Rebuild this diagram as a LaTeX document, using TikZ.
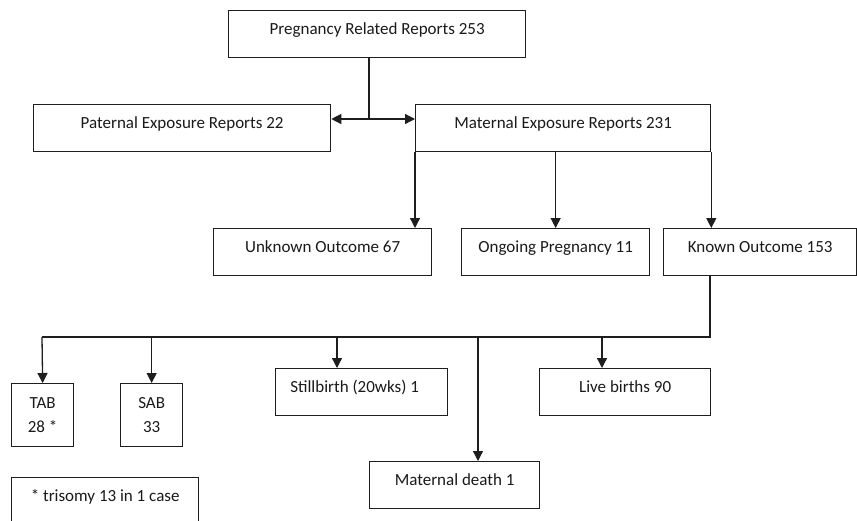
\documentclass[tikz,border=0pt]{standalone}
\usepackage{fontspec}
\setmainfont{Carlito}
\usetikzlibrary{arrows.meta}
\definecolor{linec}{HTML}{1E1E1E}
\definecolor{textc}{HTML}{1A1A1A}
\begin{document}
\begin{tikzpicture}[x=1pt,y=-1pt,
  box/.style={draw=linec, line width=1.3pt, inner sep=0pt, text=textc,
    font=\fontsize{17}{24}\selectfont, text height=8pt, text depth=8pt, anchor=north west},
  twoline/.style={draw=linec, line width=1.3pt, inner sep=0pt, text=textc,
    font=\fontsize{17}{24}\selectfont, align=center, anchor=north west},
  conn/.style={draw=linec, line width=1.3pt},
  arr/.style={conn, -{Triangle[length=10pt,width=10pt]}},
]
\path[use as bounding box] (0,0) rectangle (857,520);
\fill[white] (0,0) rectangle (857,520);
\clip (0,0) rectangle (857,520);

\node[box, minimum width=297pt, minimum height=47pt] (preg) at (228,10) {Pregnancy Related Reports 253};
\node[box, minimum width=297pt, minimum height=47pt] (pat) at (33,104) {Paternal Exposure Reports 22};
\node[box, minimum width=295pt, minimum height=47pt] (mat) at (415,104) {Maternal Exposure Reports 231};
\node[box, minimum width=218pt, minimum height=47pt] (unk) at (213,228) {Unknown Outcome 67};
\node[box, minimum width=188pt, minimum height=47pt] (ong) at (461,228) {Ongoing Pregnancy 11};
\node[box, minimum width=193pt, minimum height=47pt] (known) at (663,228) {Known Outcome 153};
\node[twoline, minimum width=62pt, minimum height=63pt] (tab) at (11,383) {TAB\\28 *};
\node[twoline, minimum width=62pt, minimum height=63pt] (sab) at (120,383) {SAB\\33};
\node[box, minimum width=172pt, minimum height=47pt] (still) at (275,368) {\hspace*{-14pt}Stillbirth (20wks) 1};
\node[box, minimum width=171pt, minimum height=47pt] (live) at (539,368) {Live births 90};
\node[box, minimum width=170pt, minimum height=47pt] (mdeath) at (369,461) {Maternal death 1};
\node[box, minimum width=187pt, minimum height=47pt] (tri) at (11,477) {* trisomy 13 in 1 case};

% top split
\coordinate (j) at (369,119);
\draw[conn] (j |- preg.south) -- (j);
\draw[arr] (j) -- (j -| pat.east);
\draw[arr] (j) -- (j -| mat.west);

% maternal split
\draw[arr] (mat.south west) -- (mat.south west |- unk.north);
\draw[arr] (ong.north |- mat.south) -- (ong.north);
\draw[arr] (mat.south east) -- (mat.south east |- known.north);

% known outcome bus
\coordinate (bus) at (710,337);
\coordinate (busL) at (42,337);
\draw[conn] (bus |- known.south) -- (bus) -- (busL);
\draw[arr] (busL) -- (tab.north);
\draw[arr] (sab.north |- bus) -- (sab.north);
\coordinate (d3) at (337,337);
\draw[arr] (d3) -- (d3 |- still.north);
\coordinate (d4) at (478,337);
\draw[arr] (d4) -- (d4 |- mdeath.north);
\coordinate (d5) at (602,337);
\draw[arr] (d5) -- (d5 |- live.north);
\end{tikzpicture}
\end{document}
